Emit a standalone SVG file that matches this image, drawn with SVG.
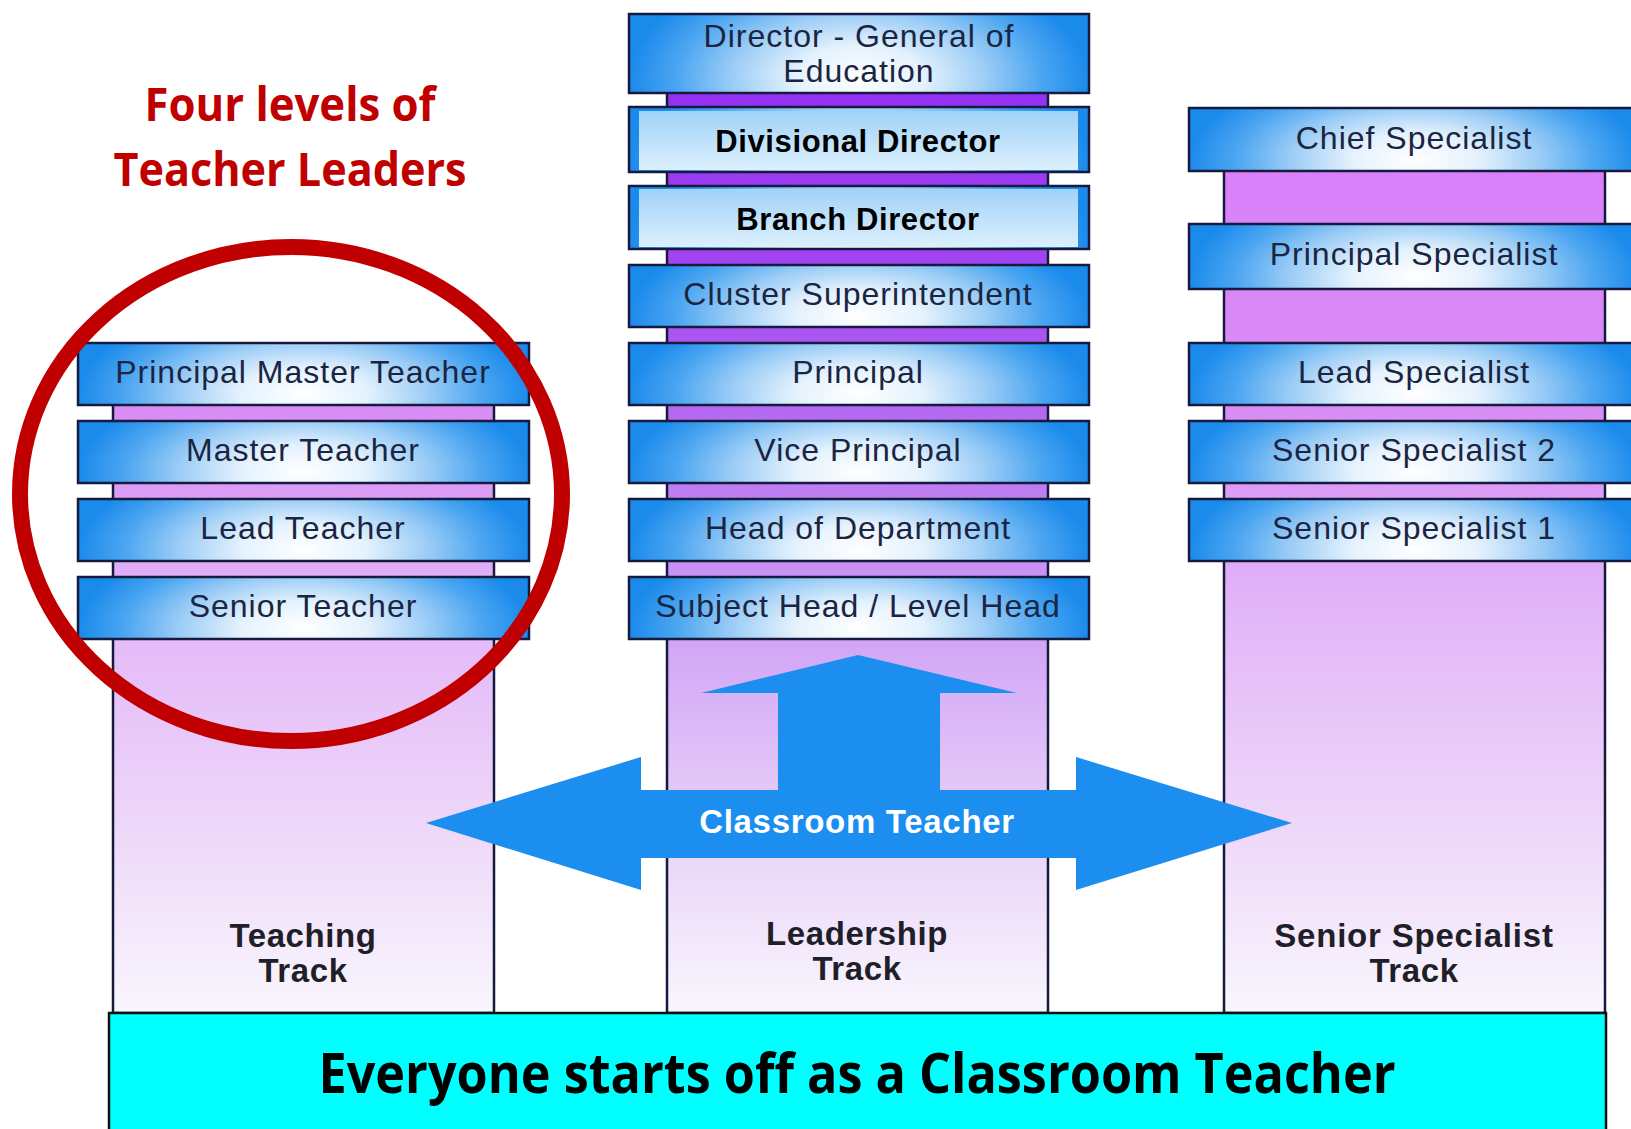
<svg xmlns="http://www.w3.org/2000/svg" width="1631" height="1129" viewBox="0 0 1631 1129">
<defs>
  <radialGradient id="barGrad" cx="0.5" cy="0.82" r="0.5" gradientTransform="translate(0.5,0.82) scale(1,3) translate(-0.5,-0.82)">
    <stop offset="0" stop-color="#ffffff"/>
    <stop offset="0.28" stop-color="#e4f2fd"/>
    <stop offset="0.55" stop-color="#9ccdf6"/>
    <stop offset="0.8" stop-color="#4aa5f1"/>
    <stop offset="1" stop-color="#1a8aeb"/>
  </radialGradient>
  <linearGradient id="innerGrad" x1="0" y1="0" x2="0" y2="1">
    <stop offset="0" stop-color="#a0d2f8"/>
    <stop offset="1" stop-color="#dcf0fd"/>
  </linearGradient>
  <linearGradient id="colLead" gradientUnits="userSpaceOnUse" x1="0" y1="90" x2="0" y2="1013">
    <stop offset="0" stop-color="#9430f2"/>
    <stop offset="0.2" stop-color="#a446f2"/>
    <stop offset="0.33" stop-color="#b264f1"/>
    <stop offset="0.45" stop-color="#c082f2"/>
    <stop offset="0.56" stop-color="#cd9cf5"/>
    <stop offset="0.66" stop-color="#d9b3f7"/>
    <stop offset="0.85" stop-color="#ecdaf9"/>
    <stop offset="1" stop-color="#f9f6fd"/>
  </linearGradient>
  <linearGradient id="colTS" gradientUnits="userSpaceOnUse" x1="0" y1="100" x2="0" y2="1013">
    <stop offset="0" stop-color="#da7cfb"/>
    <stop offset="0.35" stop-color="#d88ef5"/>
    <stop offset="0.55" stop-color="#e2b4f8"/>
    <stop offset="0.8" stop-color="#eed8f9"/>
    <stop offset="1" stop-color="#f9f6fd"/>
  </linearGradient>
</defs>
<style>
  .bar{fill:url(#barGrad);stroke:#161a3c;stroke-width:2.5}
  .inner{fill:url(#innerGrad)}
  .col{stroke:#161a3c;stroke-width:2.5}
  .lbl{font-family:"Liberation Sans",Arial,sans-serif;font-size:32px;fill:#1b2542;text-anchor:middle;letter-spacing:1px}
  .blbl{font-family:"Liberation Sans",Arial,sans-serif;font-size:31px;font-weight:bold;fill:#000;text-anchor:middle;letter-spacing:0.6px}
  .trk{font-family:"Liberation Sans",Arial,sans-serif;font-size:33px;font-weight:bold;fill:#1f1f29;text-anchor:middle;letter-spacing:0.6px}
  .red{font-family:"Open Sans","Noto Sans",sans-serif;font-weight:bold;fill:#c00000;text-anchor:middle}
</style>
<rect x="0" y="0" width="1631" height="1129" fill="#ffffff"/>

<g id="columns">
  <rect id="col-teaching" class="col" x="113" y="400" width="381" height="613" fill="url(#colTS)"/>
  <rect id="col-leadership" class="col" x="667" y="80" width="381" height="933" fill="url(#colLead)"/>
  <rect id="col-specialist" class="col" x="1224" y="160" width="381" height="853" fill="url(#colTS)"/>
</g>

<g id="teaching-track">
  <g id="principal-master-teacher"><rect class="bar" x="78" y="343" width="451" height="62"/><text class="lbl" x="303" y="383">Principal Master Teacher</text></g>
  <g id="master-teacher"><rect class="bar" x="78" y="421" width="451" height="62"/><text class="lbl" x="303" y="461">Master Teacher</text></g>
  <g id="lead-teacher"><rect class="bar" x="78" y="499" width="451" height="62"/><text class="lbl" x="303" y="539">Lead Teacher</text></g>
  <g id="senior-teacher"><rect class="bar" x="78" y="577" width="451" height="62"/><text class="lbl" x="303" y="617">Senior Teacher</text></g>
</g>

<g id="leadership-track">
  <g id="director-general"><rect class="bar" x="629" y="14" width="460" height="79"/><text class="lbl" x="859" y="47">Director - General of</text><text class="lbl" x="859" y="82">Education</text></g>
  <g id="divisional-director"><rect class="bar" x="629" y="107" width="460" height="65"/><rect class="inner" x="639" y="111" width="439" height="59"/><text class="blbl" x="858" y="152">Divisional Director</text></g>
  <g id="branch-director"><rect class="bar" x="629" y="186" width="460" height="63"/><rect class="inner" x="639" y="189" width="439" height="58"/><text class="blbl" x="858" y="230">Branch Director</text></g>
  <g id="cluster-superintendent"><rect class="bar" x="629" y="265" width="460" height="62"/><text class="lbl" x="858" y="305">Cluster Superintendent</text></g>
  <g id="principal"><rect class="bar" x="629" y="343" width="460" height="62"/><text class="lbl" x="858" y="383">Principal</text></g>
  <g id="vice-principal"><rect class="bar" x="629" y="421" width="460" height="62"/><text class="lbl" x="858" y="461">Vice Principal</text></g>
  <g id="head-of-department"><rect class="bar" x="629" y="499" width="460" height="62"/><text class="lbl" x="858" y="539">Head of Department</text></g>
  <g id="subject-head"><rect class="bar" x="629" y="577" width="460" height="62"/><text class="lbl" x="858" y="617">Subject Head / Level Head</text></g>
</g>

<g id="specialist-track">
  <g id="chief-specialist"><rect class="bar" x="1189" y="108" width="452" height="63"/><text class="lbl" x="1414" y="149">Chief Specialist</text></g>
  <g id="principal-specialist"><rect class="bar" x="1189" y="224" width="452" height="65"/><text class="lbl" x="1414" y="265">Principal Specialist</text></g>
  <g id="lead-specialist"><rect class="bar" x="1189" y="343" width="452" height="62"/><text class="lbl" x="1414" y="383">Lead Specialist</text></g>
  <g id="senior-specialist-2"><rect class="bar" x="1189" y="421" width="452" height="62"/><text class="lbl" x="1414" y="461">Senior Specialist 2</text></g>
  <g id="senior-specialist-1"><rect class="bar" x="1189" y="499" width="452" height="62"/><text class="lbl" x="1414" y="539">Senior Specialist 1</text></g>
</g>

<g id="connectors">
  <polygon id="classroom-arrow" fill="#1b8ef0" points="858,655 1017,693 940,693 940,790 1076,790 1076,757 1292,823 1076,890 1076,858 641,858 641,890 426,823 641,757 641,790 778,790 778,693 701,693"/>
</g>
<g id="classroom-teacher">
  <text class="trk" x="857" y="833" fill="#ffffff" style="fill:#ffffff;letter-spacing:0.7px">Classroom Teacher</text>
</g>

<g id="track-labels">
  <g id="teaching-label"><text class="trk" x="303" y="947">Teaching</text><text class="trk" x="303" y="982">Track</text></g>
  <g id="leadership-label"><text class="trk" x="857" y="945">Leadership</text><text class="trk" x="857" y="980">Track</text></g>
  <g id="specialist-label"><text class="trk" x="1414" y="947" style="letter-spacing:0.8px">Senior Specialist</text><text class="trk" x="1414" y="982">Track</text></g>
</g>

<g id="banner">
  <rect x="109" y="1013" width="1497" height="130" fill="#00ffff" stroke="#111111" stroke-width="2.5"/>
  <text x="857" y="1093" font-family="'Open Sans','Noto Sans',sans-serif" font-weight="bold" font-size="56" fill="#000000" text-anchor="middle" textLength="1077" lengthAdjust="spacingAndGlyphs">Everyone starts off as a Classroom Teacher</text>
</g>

<g id="highlight">
  <ellipse cx="291" cy="494" rx="271" ry="247" fill="none" stroke="#c00000" stroke-width="16"/>
</g>

<g id="heading">
  <text class="red" x="290" y="121" font-size="47" textLength="291" lengthAdjust="spacingAndGlyphs">Four levels of</text>
  <text class="red" x="290" y="186" font-size="47" textLength="353" lengthAdjust="spacingAndGlyphs">Teacher Leaders</text>
</g>
</svg>
